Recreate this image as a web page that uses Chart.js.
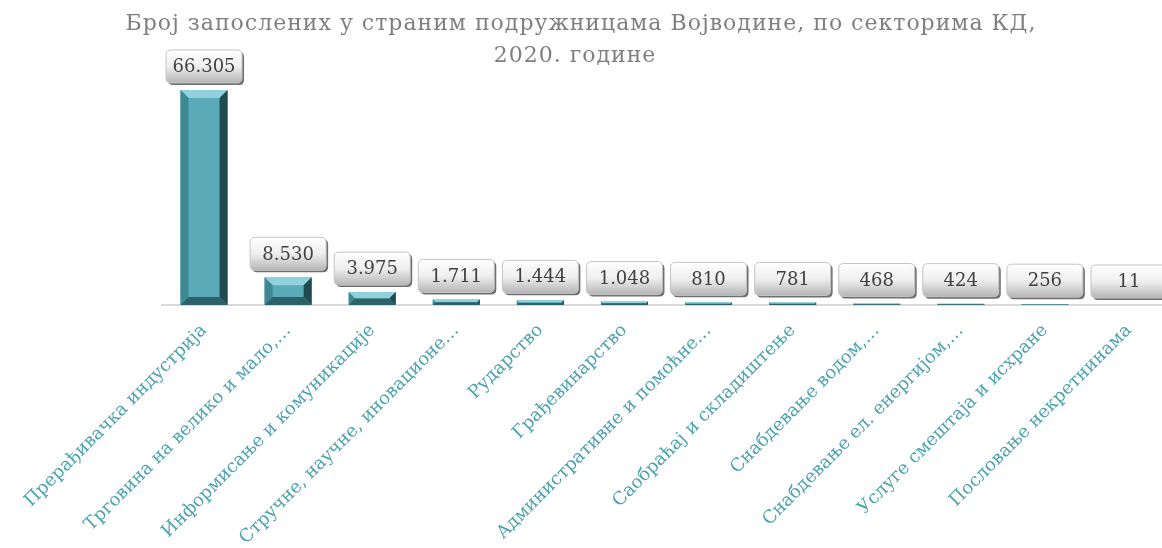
<!DOCTYPE html>
<html>
<head>
<meta charset="utf-8">
<script src="https://cdn.jsdelivr.net/npm/chart.js@4.4.1/dist/chart.umd.min.js"></script>
<style>
  html, body { margin: 0; padding: 0; background: #fff; overflow: hidden; }
  #wrap { position: absolute; left: 0; top: 0; width: 1171px; height: 548px; }
</style>
</head>
<body>
<div id="wrap"><canvas id="chart" width="1171" height="548"></canvas></div>
<script>
'use strict';

const titleLines = ['Број запослених у страним подружницама Војводине, по секторима КД,', '2020. године'];

const sectors = [
  'Прерађивачка индустрија',
  'Трговина на велико и мало,…',
  'Информисање и комуникације',
  'Стручне, научне, иновационе…',
  'Рударство',
  'Грађевинарство',
  'Административне и помоћне…',
  'Саобраћај и складиштење',
  'Снабдевање водом,…',
  'Снабдевање ел. енергијом,…',
  'Услуге смештаја и исхране',
  'Пословање некретнинама'
];

const employees = [66305, 8530, 3975, 1711, 1444, 1048, 810, 781, 468, 424, 256, 11];

const serif = '"DejaVu Serif", "Liberation Serif", serif';

function formatNum(n) {
  return String(n).replace(/\B(?=(\d{3})+(?!\d))/g, '.');
}

// title drawn by hand so it can sit a bit left of the canvas centre
const titlePlugin = {
  id: 'titleText',
  afterDraw(chart) {
    const ctx = chart.ctx;
    ctx.save();
    ctx.fillStyle = '#7f7f7f';
    ctx.font = '22px ' + serif;
    ctx.letterSpacing = '1px';
    ctx.textAlign = 'center';
    ctx.textBaseline = 'alphabetic';
    ctx.fillText(titleLines[0], 581, 30);
    ctx.fillText(titleLines[1], 575, 62);
    ctx.letterSpacing = '0px';
    ctx.restore();
  }
};

// bevel look on each bar + the boxed value labels
const bevelPlugin = {
  id: 'bevel',
  afterDatasetsDraw(chart) {
    const ctx = chart.ctx;
    const meta = chart.getDatasetMeta(0);
    meta.data.forEach(function(bar, i) {
      const w = bar.width;
      const l = bar.x - w / 2, r = bar.x + w / 2;
      const t = bar.y, b = bar.base;
      const h = b - t;
      const bv = Math.min(8, h / 2, w / 2);
      if (bv > 0.3) {
        ctx.save();
        // top
        ctx.fillStyle = '#8fd2dc';
        ctx.beginPath();
        ctx.moveTo(l, t); ctx.lineTo(r, t); ctx.lineTo(r - bv, t + bv); ctx.lineTo(l + bv, t + bv);
        ctx.closePath(); ctx.fill();
        // left
        ctx.fillStyle = '#3e8893';
        ctx.beginPath();
        ctx.moveTo(l, t); ctx.lineTo(l + bv, t + bv); ctx.lineTo(l + bv, b - bv); ctx.lineTo(l, b);
        ctx.closePath(); ctx.fill();
        // right
        ctx.fillStyle = '#1f4a50';
        ctx.beginPath();
        ctx.moveTo(r, t); ctx.lineTo(r - bv, t + bv); ctx.lineTo(r - bv, b - bv); ctx.lineTo(r, b);
        ctx.closePath(); ctx.fill();
        // bottom
        ctx.fillStyle = '#2c6169';
        ctx.beginPath();
        ctx.moveTo(l, b); ctx.lineTo(l + bv, b - bv); ctx.lineTo(r - bv, b - bv); ctx.lineTo(r, b);
        ctx.closePath(); ctx.fill();
        ctx.restore();
      }

      // value box
      const bw = 76, bh = 33;
      const bx = bar.x - bw / 2, by = t - 7 - bh;
      ctx.save();
      ctx.fillStyle = '#6f6f6f';
      roundRect(ctx, bx + 2, by + 2, bw, bh, 5);
      ctx.fill();
      const g = ctx.createLinearGradient(0, by, 0, by + bh);
      g.addColorStop(0, '#ffffff');
      g.addColorStop(0.5, '#efefef');
      g.addColorStop(1, '#b5b5b5');
      ctx.fillStyle = g;
      roundRect(ctx, bx, by, bw, bh, 5);
      ctx.fill();
      ctx.strokeStyle = '#c4c4c4';
      ctx.lineWidth = 1;
      ctx.stroke();
      ctx.fillStyle = '#404040';
      ctx.font = '18px ' + serif;
      ctx.textAlign = 'center';
      ctx.textBaseline = 'middle';
      ctx.fillText(formatNum(employees[i]), bar.x, by + bh / 2 + 1);
      ctx.restore();
    });
  }
};

function roundRect(ctx, x, y, w, h, r) {
  ctx.beginPath();
  ctx.moveTo(x + r, y);
  ctx.lineTo(x + w - r, y);
  ctx.quadraticCurveTo(x + w, y, x + w, y + r);
  ctx.lineTo(x + w, y + h - r);
  ctx.quadraticCurveTo(x + w, y + h, x + w - r, y + h);
  ctx.lineTo(x + r, y + h);
  ctx.quadraticCurveTo(x, y + h, x, y + h - r);
  ctx.lineTo(x, y + r);
  ctx.quadraticCurveTo(x, y, x + r, y);
  ctx.closePath();
}

const chartData = {
  labels: sectors,
  datasets: [{
    label: 'Број запослених',
    data: employees,
    backgroundColor: '#5aabb7',
    borderWidth: 0,
    categoryPercentage: 1,
    barPercentage: 0.56
  }]
};

const chartConfig = {
  type: 'bar',
  data: chartData,
  options: {
    responsive: false,
    animation: false,
    layout: { padding: { left: 162, right: 0, top: 78, bottom: 0 } },
    plugins: {
      legend: { display: false },
      title: { display: false },
      tooltip: { enabled: false }
    },
    scales: {
      y: {
        display: false,
        min: 0,
        max: 70000
      },
      x: {
        grid: { display: false, drawTicks: false },
        border: { display: true, color: '#d9d9d9', width: 2 },
        ticks: {
          autoSkip: false,
          minRotation: 45,
          maxRotation: 45,
          padding: 15,
          color: '#4ba3b0',
          font: { family: serif, size: 18 }
        },
        afterFit(scale) { scale.height = 243; }
      }
    }
  },
  plugins: [titlePlugin, bevelPlugin]
};

new Chart(document.getElementById('chart').getContext('2d'), chartConfig);
</script>
</body>
</html>
